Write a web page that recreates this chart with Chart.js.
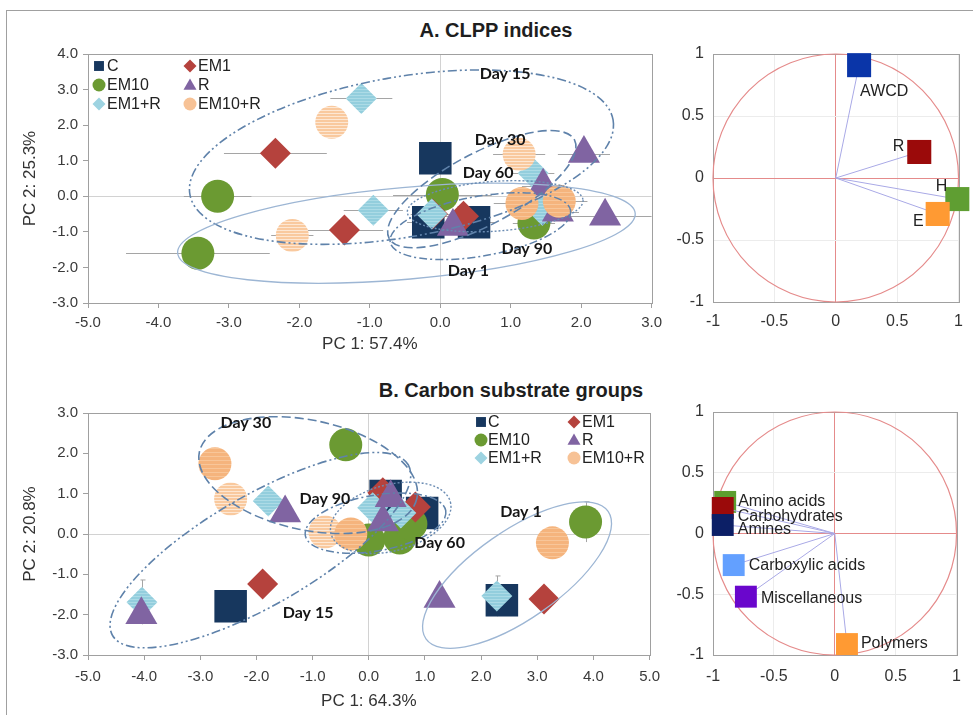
<!DOCTYPE html>
<html>
<head>
<meta charset="utf-8">
<script src="https://cdn.jsdelivr.net/npm/chart.js@4.4.1/dist/chart.umd.min.js"></script>
<style>
  body { margin:0; background:#fff; width:973px; height:715px; overflow:hidden; position:relative; }
  #frame { position:absolute; left:6px; top:10px; width:990px; height:720px; border:1px solid #a0a0a0; }
  canvas { position:absolute; }
  .ttl { position:absolute; width:400px; text-align:center; color:#1e1e1e;
         font:bold 20px "Liberation Sans Narrow", "Liberation Sans", Arial, sans-serif; line-height:24px; }
</style>
</head>
<body>
<div id="frame"></div>
<div class="ttl" style="left:296px;top:18px">A. CLPP indices</div>
<div class="ttl" style="left:311px;top:378px">B. Carbon substrate groups</div>
<canvas id="clppScores" width="668" height="335" style="left:0;top:20px"></canvas>
<canvas id="clppLoads" width="313" height="325" style="left:660px;top:20px"></canvas>
<canvas id="carbScores" width="668" height="332" style="left:0;top:380px"></canvas>
<canvas id="carbLoads" width="313" height="325" style="left:660px;top:380px"></canvas>
<script>
// traitements
const treatments = ['C', 'EM1', 'EM10', 'R', 'EM1+R', 'EM10+R'];

// A. CLPP indices — scores [PC1, PC2, erreur PC1]
const clppC     = [[-0.07, 1.07, 0], [-0.17, -0.73, 0.3], [0.48, -0.73, 0.3]];
const clppEM1   = [[-2.34, 1.21, 0.73], [-1.36, -0.95, 0.55], [-0.11, -0.50, 0.3], [0.33, -0.56, 0.3]];
const clppEM10  = [[-3.16, 0.00, 0.48], [-3.44, -1.60, 1.02], [0.03, 0.05, 0.7], [1.33, -0.75, 0.3]];
const clppR     = [[2.04, 1.20, 0.37], [1.46, 0.28, 0.3], [1.67, -0.45, 0.3], [2.34, -0.56, 0.7], [0.18, -0.85, 0.3]];
const clppEM1R  = [[-1.12, 2.75, 0.44], [-0.95, -0.39, 0.42], [1.32, 0.65, 0.3], [1.45, -0.40, 0.3], [-0.12, -0.50, 0.3]];
const clppEM10R = [[-1.54, 2.08, 0.2], [-2.10, -1.10, 0.3], [1.12, 1.18, 0.37], [1.16, -0.20, 0.4], [1.69, -0.14, 0.4]];

// B. Carbon substrate groups — scores [PC1, PC2, erreur PC2]
const carbC     = [[-2.46, -1.79, 0], [2.37, -1.64, 0], [0.30, 0.94, 0], [0.95, 0.52, 0]];
const carbEM1   = [[-1.89, -1.24, 0], [3.12, -1.61, 0], [0.25, 1.02, 0], [0.83, 0.67, 0]];
const carbEM10  = [[-0.41, 2.21, 0], [3.86, 0.30, 0.5], [0.00, -0.15, 0], [0.55, -0.10, 0], [0.75, 0.25, 0]];
const carbR     = [[-1.49, 0.52, 0], [-4.05, -2.00, 0], [1.26, -1.60, 0], [0.39, 0.90, 0], [0.25, 0.30, 0]];
const carbEM1R  = [[-1.79, 0.82, 0], [-4.04, -1.69, 0.55], [2.28, -1.54, 0.5], [0.07, 0.65, 0], [0.57, 0.52, 0]];
const carbEM10R = [[-2.74, 1.74, 0], [-2.46, 0.87, 0], [-0.78, 0.05, 0], [-0.32, 0.00, 0], [3.27, -0.22, 0]];

// ellipses : [jour, centre PC1, centre PC2, demi-axe PC1, demi-axe PC2, rotation°]
const clppEllipses = [
  ['Day 15', -0.55, 1.10, 3.05, 2.25, -10],
  ['Day 1', -0.48, -1.04, 3.26, 1.29, -5],
  ['Day 30', 0.59, 0.20, 1.49, 1.01, -28],
  ['Day 60', 0.78, -0.28, 1.25, 0.70, -4],
  ['Day 90', 0.57, -0.84, 1.30, 0.84, -10]
];
const clppDayLabels = [['Day 15', 0.92, 3.45], ['Day 30', 0.85, 1.60], ['Day 60', 0.68, 0.65], ['Day 90', 1.23, -1.49], ['Day 1', 0.40, -2.11]];
const carbEllipses = [
  ['Day 30', -1.08, 1.46, 1.98, 1.36, 12],
  ['Day 15', -1.93, -0.40, 3.04, 1.36, -30],
  ['Day 90', 0.12, 0.27, 1.27, 0.69, -10],
  ['Day 60', 0.39, 0.40, 1.10, 0.82, -15],
  ['Day 1', 2.64, -1.02, 1.98, 1.09, -35]
];
const carbDayLabels = [['Day 30', -2.19, 2.75], ['Day 90', -0.78, 0.87], ['Day 60', 1.26, -0.22], ['Day 15', -1.08, -1.96], ['Day 1', 2.71, 0.55]];

// cercles de corrélation
const clppVars  = ['AWCD', 'R', 'H', 'E'];
const clppLoadX = [0.19, 0.68, 0.99, 0.83];
const clppLoadY = [0.91, 0.21, -0.17, -0.29];
const carbVars  = ['Amino acids', 'Carbohydrates', 'Amines', 'Carboxylic acids', 'Miscellaneous', 'Polymers'];
const carbLoadX = [-0.90, -0.92, -0.92, -0.83, -0.73, 0.10];
const carbLoadY = [0.26, 0.21, 0.07, -0.26, -0.52, -0.91];

// styles
const narrow = '"Liberation Sans Narrow", "Liberation Sans", Arial, sans-serif';
const sans = '"Liberation Sans", Arial, sans-serif';
const dayLine = {
  'Day 1':  { dash: [], color: '#9db6d4', width: 1.3 },
  'Day 15': { dash: [9, 3, 2, 3, 2, 3], color: '#5f82aa', width: 1.6 },
  'Day 30': { dash: [9, 4], color: '#5f82aa', width: 1.6 },
  'Day 60': { dash: [2, 2], color: '#6a8bb2', width: 1.4 },
  'Day 90': { dash: [8, 3, 2, 3], color: '#5f82aa', width: 1.5 }
};

function pattern(base, line, step) {
  const c = document.createElement('canvas');
  c.width = c.height = step;
  const g = c.getContext('2d');
  g.fillStyle = base; g.fillRect(0, 0, step, step);
  g.fillStyle = line; g.fillRect(0, 0, step, 1);
  return g.createPattern(c, 'repeat');
}
const orangeLight = pattern('#f9c99e', '#fde7d3', 3);
const orangeSolid = pattern('#f5b47d', '#f8c699', 4);
const cyanHatch = pattern('#93cedd', '#acdbe6', 3);

const tStyle = [
  { shape: 'rect',     r: 23,   color: '#17375e', legR: 7 },
  { shape: 'rectRot',  r: 15.5, color: '#b5423d', legR: 6.5 },
  { shape: 'circle',   r: 16.5, color: '#6b9a32', legR: 6.5 },
  { shape: 'triangle', r: 18.5, color: '#8064a2', legR: 7.5 },
  { shape: 'rectRot',  r: 15.5, color: cyanHatch, legR: 6.5, legColor: '#9dd3e1' },
  { shape: 'circle',   r: 16.5, color: orangeLight, legR: 6.5, legColor: '#f7c296' }
];
// ordre de dessin : C dessous, EM10+R dessus
const drawOrder = [6, 4, 5, 2, 3, 1];

function drawMarker(ctx, shape, x, y, r) {
  ctx.beginPath();
  if (shape === 'rect') { const s = r * Math.SQRT1_2; ctx.rect(x - s, y - s, 2 * s, 2 * s); }
  else if (shape === 'rectRot') { ctx.moveTo(x - r, y); ctx.lineTo(x, y - r); ctx.lineTo(x + r, y); ctx.lineTo(x, y + r); ctx.closePath(); }
  else if (shape === 'triangle') {
    ctx.moveTo(x, y - r); ctx.lineTo(x + r * 0.866, y + r / 2); ctx.lineTo(x - r * 0.866, y + r / 2); ctx.closePath();
  } else ctx.arc(x, y, r, 0, 2 * Math.PI);
  ctx.fill();
}

// plugins
const plotFrame = {
  id: 'plotFrame',
  beforeDatasetsDraw(chart) {
    const { ctx, chartArea: a } = chart;
    ctx.save();
    ctx.strokeStyle = '#a0a0a0'; ctx.lineWidth = 1;
    ctx.strokeRect(Math.round(a.left) + 0.5, Math.round(a.top) + 0.5, Math.round(a.width), Math.round(a.height));
    ctx.restore();
  }
};

const errorBars = {
  id: 'errorBars',
  beforeDatasetsDraw(chart) {
    const { ctx, chartArea: a, scales: { x, y } } = chart;
    ctx.save();
    ctx.beginPath(); ctx.rect(a.left, a.top, a.width, a.height); ctx.clip();
    ctx.strokeStyle = '#a5a5a5'; ctx.lineWidth = 1;
    chart.data.datasets.forEach(ds => {
      (ds.errs || []).forEach((e, i) => {
        if (!e) return;
        const p = ds.data[i];
        ctx.beginPath();
        if (ds.errAxis === 'x') {
          const py = Math.round(y.getPixelForValue(p.y)) + 0.5;
          ctx.moveTo(x.getPixelForValue(p.x - e), py); ctx.lineTo(x.getPixelForValue(p.x + e), py);
        } else {
          const px = Math.round(x.getPixelForValue(p.x)) + 0.5;
          ctx.moveTo(px, y.getPixelForValue(p.y - e)); ctx.lineTo(px, y.getPixelForValue(p.y + e));
          ctx.moveTo(px - 2, y.getPixelForValue(p.y + e)); ctx.lineTo(px + 3, y.getPixelForValue(p.y + e));
        }
        ctx.stroke();
      });
    });
    ctx.restore();
  }
};

const dayEllipses = {
  id: 'dayEllipses',
  afterDatasetsDraw(chart, args, opts) {
    const { ctx, chartArea: a, scales: { x, y } } = chart;
    const kx = Math.abs(x.getPixelForValue(1) - x.getPixelForValue(0));
    const ky = Math.abs(y.getPixelForValue(0) - y.getPixelForValue(1));
    ctx.save();
    ctx.beginPath(); ctx.rect(a.left, a.top, a.width, a.height); ctx.clip();
    opts.ellipses.forEach(([day, cx, cy, rx, ry, rot]) => {
      const st = dayLine[day];
      ctx.beginPath();
      ctx.ellipse(x.getPixelForValue(cx), y.getPixelForValue(cy), rx * kx, ry * ky, rot * Math.PI / 180, 0, 2 * Math.PI);
      ctx.setLineDash(st.dash); ctx.strokeStyle = st.color; ctx.lineWidth = st.width;
      ctx.stroke();
    });
    ctx.setLineDash([]);
    ctx.font = 'bold 16px Lato, "Open Sans", sans-serif';
    ctx.fillStyle = '#151515'; ctx.textAlign = 'center'; ctx.textBaseline = 'middle';
    opts.labels.forEach(([txt, lx, ly]) => ctx.fillText(txt, x.getPixelForValue(lx), y.getPixelForValue(ly)));
    ctx.restore();
  }
};

const boxLegend = {
  id: 'boxLegend',
  afterDraw(chart, args, opts) {
    const { ctx, chartArea: a } = chart;
    ctx.save();
    ctx.font = '16px ' + sans; ctx.fillStyle = '#222'; ctx.textBaseline = 'middle'; ctx.textAlign = 'left';
    treatments.forEach((t, i) => {
      const col = i % 2, row = Math.floor(i / 2);
      const st = tStyle[i];
      const my = a.top + opts.rows[row];
      ctx.fillStyle = st.legColor || st.color;
      drawMarker(ctx, st.shape, a.left + opts.markX[col], my + (st.shape === 'triangle' ? 1 : 0), st.legR);
      ctx.fillStyle = '#222';
      ctx.fillText(t, a.left + opts.textX[col], my + 1);
    });
    ctx.restore();
  }
};

const loadLabels = {
  id: 'loadLabels',
  beforeDatasetsDraw(chart) {
    const { ctx, scales: { x, y } } = chart;
    ctx.save();
    ctx.beginPath(); ctx.strokeStyle = '#e58b8b'; ctx.lineWidth = 1.2;
    ctx.ellipse(x.getPixelForValue(0), y.getPixelForValue(0),
      x.getPixelForValue(1) - x.getPixelForValue(0), y.getPixelForValue(0) - y.getPixelForValue(1), 0, 0, 2 * Math.PI);
    ctx.stroke();
    ctx.restore();
  },
  afterDatasetsDraw(chart, args, opts) {
    const { ctx, scales: { x, y } } = chart;
    ctx.save();
    ctx.font = '16px ' + sans; ctx.fillStyle = '#222'; ctx.textBaseline = 'middle';
    chart.data.datasets.forEach((ds, i) => {
      const p = ds.data[1], l = opts.place[i];
      ctx.textAlign = l[2];
      ctx.fillText(ds.label, x.getPixelForValue(p.x) + l[0], y.getPixelForValue(p.y) + l[1]);
    });
    ctx.restore();
  }
};

function scoreChart(id, series, colors, errAxis, o) {
  const datasets = series.map((s, i) => ({
    label: treatments[i],
    data: s.map(p => ({ x: p[0], y: p[1] })),
    errs: s.map(p => p[2]),
    errAxis: errAxis,
    order: drawOrder[i],
    pointStyle: tStyle[i].shape,
    pointRadius: tStyle[i].r,
    pointBackgroundColor: colors[i] || tStyle[i].color,
    pointBorderWidth: 0,
    clip: false
  }));
  const axisFont = { family: narrow, size: 15 };
  return new Chart(document.getElementById(id), {
    type: 'scatter',
    data: { datasets },
    plugins: [plotFrame, errorBars, dayEllipses, boxLegend],
    options: {
      responsive: false, animation: false, events: [], devicePixelRatio: 1,
      layout: { autoPadding: false, padding: { left: 0, top: o.padTop, right: o.padRight, bottom: 0 } },
      plugins: {
        legend: { display: false }, tooltip: { enabled: false },
        dayEllipses: { ellipses: o.ellipses, labels: o.dayLabels },
        boxLegend: o.legend
      },
      scales: {
        x: {
          type: 'linear', min: o.xMin, max: o.xMax,
          ticks: { stepSize: 1, autoSkip: false, maxRotation: 0, padding: o.xTickPad, color: '#3a3a3a', font: axisFont, callback: v => v.toFixed(1) },
          grid: { color: c => c.tick && c.tick.value === 0 ? '#d2d2d2' : 'rgba(0,0,0,0)', tickColor: '#a0a0a0', tickLength: 5 },
          border: { color: '#a0a0a0' },
          title: { display: true, text: o.xTitle, color: '#333', font: { family: narrow, size: 17 }, padding: 0 },
          afterFit: s => { s.height = o.xAxisH; }
        },
        y: {
          type: 'linear', min: o.yMin, max: o.yMax,
          ticks: { stepSize: 1, autoSkip: false, padding: 5, color: '#3a3a3a', font: axisFont, callback: v => v.toFixed(1) },
          grid: { color: c => c.tick && c.tick.value === 0 ? '#d2d2d2' : 'rgba(0,0,0,0)', tickColor: '#a0a0a0', tickLength: 5 },
          border: { color: '#a0a0a0' },
          title: { display: true, text: o.yTitle, color: '#333', font: { family: narrow, size: 17 }, padding: { top: 20, bottom: 0 } },
          afterFit: s => { s.width = 88; }
        }
      }
    }
  });
}

function loadChart(id, vars, lx, ly, colors, place, o) {
  const datasets = vars.map((v, i) => ({
    label: v,
    data: [{ x: 0, y: 0 }, { x: lx[i], y: ly[i] }],
    showLine: true,
    borderColor: '#a9a9e6',
    borderWidth: 1,
    order: vars.length - i,
    pointStyle: 'rect',
    pointRadius: [0, o.r],
    pointBackgroundColor: colors[i],
    pointBorderWidth: 0,
    clip: false
  }));
  const tickFont = { family: sans, size: 16 };
  const gridCol = c => c.tick && c.tick.value === 0 ? '#e58b8b' : '#ececec';
  const fmt = v => String(Math.round(v * 10) / 10);
  return new Chart(document.getElementById(id), {
    type: 'scatter',
    data: { datasets },
    plugins: [plotFrame, loadLabels],
    options: {
      responsive: false, animation: false, events: [], devicePixelRatio: 1,
      layout: { autoPadding: false, padding: { left: 0, top: o.padTop, right: 10, bottom: 0 } },
      plugins: { legend: { display: false }, tooltip: { enabled: false }, loadLabels: { place } },
      scales: {
        x: {
          type: 'linear', min: -1, max: 1,
          ticks: { stepSize: 0.5, autoSkip: false, maxRotation: 0, padding: o.xTickPad, color: '#333', font: tickFont, callback: fmt },
          grid: { color: gridCol, drawTicks: false },
          border: { color: '#a0a0a0' },
          afterFit: s => { s.height = o.xAxisH; }
        },
        y: {
          type: 'linear', min: -1, max: 1,
          ticks: { stepSize: 0.5, autoSkip: false, padding: 9, color: '#333', font: tickFont, callback: fmt },
          grid: { color: gridCol, drawTicks: false },
          border: { color: '#a0a0a0' },
          afterFit: s => { s.width = 53; }
        }
      }
    }
  });
}

document.addEventListener('DOMContentLoaded', () => {
  scoreChart('clppScores', [clppC, clppEM1, clppEM10, clppR, clppEM1R, clppEM10R],
    [null, null, null, null, null, [orangeLight, orangeLight, orangeLight, orangeSolid, orangeSolid]], 'x', {
      xMin: -5, xMax: 3, yMin: -3, yMax: 4, xTitle: 'PC 1: 57.4%', yTitle: 'PC 2: 25.3%',
      padTop: 34, padRight: 15, xAxisH: 52, xTickPad: 6,
      ellipses: clppEllipses, dayLabels: clppDayLabels,
      legend: { markX: [11, 102], textX: [19, 110], rows: [12, 31, 50] }
    });

  scoreChart('carbScores', [carbC, carbEM1, carbEM10, carbR, carbEM1R, carbEM10R],
    [null, null, null, null, null, [orangeSolid, orangeLight, orangeLight, orangeSolid, orangeSolid]], 'y', {
      xMin: -5, xMax: 5, yMin: -3, yMax: 3, xTitle: 'PC 1: 64.3%', yTitle: 'PC 2: 20.8%',
      padTop: 33, padRight: 15, xAxisH: 57, xTickPad: 8,
      ellipses: carbEllipses, dayLabels: carbDayLabels,
      legend: { markX: [393, 486], textX: [400, 494], rows: [9, 27, 45] }
    });

  loadChart('clppLoads', clppVars, clppLoadX, clppLoadY,
    ['#0a35a8', '#9b0a0a', '#5f9e32', '#ff9a33'],
    [[1, 26, 'left'], [-15, -5, 'right'], [-10, -12, 'right'], [-14, 8, 'right']],
    { r: 17, padTop: 34, xAxisH: 43, xTickPad: 10 });

  loadChart('carbLoads', carbVars, carbLoadX, carbLoadY,
    ['#5c9e2e', '#9b0a0a', '#0c1f66', '#63a0ff', '#6a06cc', '#ff9a33'],
    [[13, 0, 'left'], [15, 9, 'left'], [15, 5, 'left'], [15, 1, 'left'], [15, 2, 'left'], [14, 0, 'left']],
    { r: 15.5, padTop: 32, xAxisH: 50, xTickPad: 12 });
});
</script>
</body>
</html>
